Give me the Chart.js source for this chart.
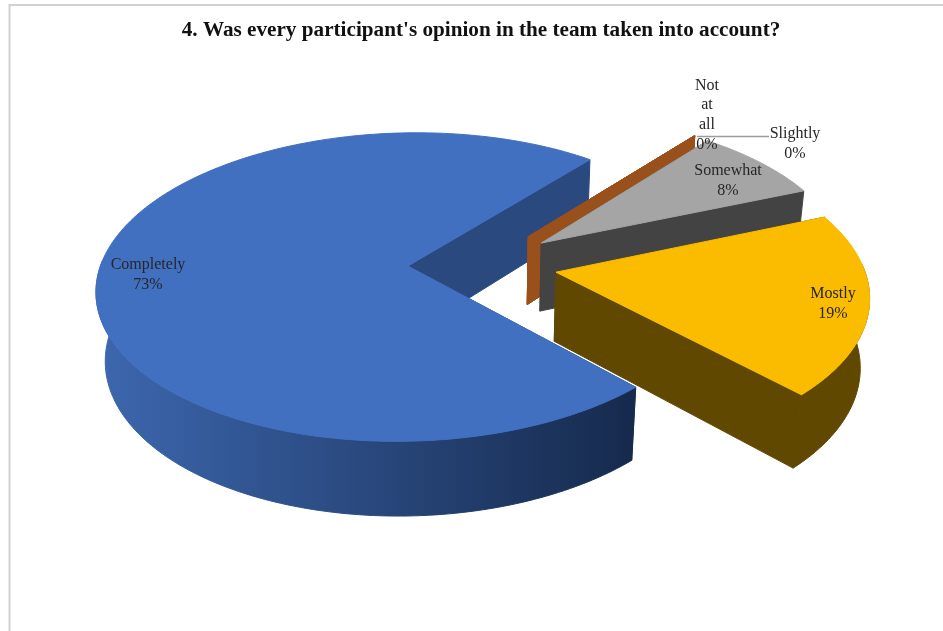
<!DOCTYPE html>
<html>
<head>
<meta charset="utf-8">
<style>html,body{margin:0;background:#fff}canvas{display:block}</style>
<script src="https://cdn.jsdelivr.net/npm/chart.js@4/dist/chart.umd.min.js"></script>
</head>
<body>
<canvas id="c" width="943" height="631"></canvas>
<script>
// Survey answers, in percent, clockwise from the start angle
const categories = ['Not at all', 'Slightly', 'Somewhat', 'Mostly', 'Completely'];
const percents = [0, 0, 8, 19, 73];
const chartTitle = "4. Was every participant's opinion in the team taken into account?";

// Slice colours: top face, cut walls, rim wall start and end
const topColors = ['#9a501b', '#9a501b', '#a5a5a5', '#fbbc00', '#4170c0'];
const cutColors = ['#9a501b', '#9a501b', '#434343', '#604800', '#2a4a7f'];
const rimFrom = ['#9a501b', '#9a501b', '#434343', '#604800', '#3c66ad'];
const rimTo = ['#9a501b', '#9a501b', '#434343', '#604800', '#162a4d'];

// Far slices are painted first so nearer ones overlap them
const paintOrder = [4, 0, 1, 2, 3];

// Centre of each data label's text block, and its line breaks
const labelLines = [['Not', 'at', 'all'], ['Slightly'], ['Somewhat'], ['Mostly'], ['Completely']];
const labelAnchors = [[707, 115], [795, 143.5], [728, 181], [833, 303.5], [148, 274.5]];

// Perspective camera for the tilted pie
const camera = {cx: 482.5, cy: 264.5, fx: 307, fy: 151, tilt: 0.136, lift: 70.5, fade: 0.024, explode: 0.243};

function project(x, y, z) {
  const w = 1 - camera.tilt * y + camera.fade * z;
  return [camera.cx + camera.fx * x / w, camera.cy + (camera.fy * y + camera.lift * z) / w];
}

function fillPath(ctx, pts, fill) {
  ctx.beginPath();
  pts.forEach((p, i) => i ? ctx.lineTo(p[0], p[1]) : ctx.moveTo(p[0], p[1]));
  ctx.closePath();
  ctx.fillStyle = fill;
  ctx.strokeStyle = fill;
  ctx.lineWidth = 1;
  ctx.lineJoin = 'round';
  ctx.fill();
  ctx.stroke();
}

function drawSlice(ctx, arc, i) {
  const mid = (arc.startAngle + arc.endAngle) / 2;
  const ox = camera.explode * Math.cos(mid);
  const oy = camera.explode * Math.sin(mid);
  const steps = Math.max(1, Math.ceil((arc.endAngle - arc.startAngle) / 0.02));
  const angleAt = k => arc.startAngle + (arc.endAngle - arc.startAngle) * k / steps;
  const rimAt = (k, z) => project(ox + Math.cos(angleAt(k)), oy + Math.sin(angleAt(k)), z);

  const apexTop = project(ox, oy, 0);
  const apexBottom = project(ox, oy, 1);

  // Cut walls first, then the camera-facing part of the rim, then the top face
  fillPath(ctx, [apexTop, rimAt(0, 0), rimAt(0, 1), apexBottom], cutColors[i]);
  fillPath(ctx, [apexTop, rimAt(steps, 0), rimAt(steps, 1), apexBottom], cutColors[i]);

  const rimTop = [], rimBottom = [], faceTop = [];
  for (let k = 0; k <= steps; k++) {
    faceTop.push(rimAt(k, 0));
    if (Math.sin(angleAt(k)) > -0.05) {
      rimTop.push(rimAt(k, 0));
      rimBottom.push(rimAt(k, 1));
    }
  }
  if (rimTop.length > 1 && arc.endAngle > arc.startAngle) {
    const xs = rimBottom.map(p => p[0]);
    const grad = ctx.createLinearGradient(Math.min(...xs), 0, Math.max(...xs), 0);
    grad.addColorStop(0, rimFrom[i]);
    grad.addColorStop(1, rimTo[i]);
    fillPath(ctx, rimTop.concat(rimBottom.slice().reverse()), grad);
  }
  if (arc.endAngle > arc.startAngle) {
    fillPath(ctx, [apexTop].concat(faceTop), topColors[i]);
  }
}

const pie3d = {
  id: 'pie3d',
  beforeDraw(chart) {
    const ctx = chart.ctx;
    ctx.save();
    ctx.fillStyle = '#fff';
    ctx.fillRect(0, 0, chart.width, chart.height);
    ctx.strokeStyle = '#d0d0d0';
    ctx.lineWidth = 2;
    ctx.beginPath();
    ctx.moveTo(9.5, chart.height);
    ctx.lineTo(9.5, 5);
    ctx.lineTo(chart.width, 5);
    ctx.stroke();
    ctx.restore();
  },
  beforeDatasetsDraw(chart) {
    const ctx = chart.ctx;
    const arcs = chart.getDatasetMeta(0).data;
    ctx.save();
    paintOrder.forEach(i => drawSlice(ctx, arcs[i], i));

    // Leader line for the "Slightly" label
    ctx.strokeStyle = '#9c9c9c';
    ctx.lineWidth = 1.4;
    ctx.beginPath();
    ctx.moveTo(697, 136.5);
    ctx.lineTo(769, 136.5);
    ctx.stroke();

    // Data labels: category name over the percentage
    ctx.font = '16px "Liberation Serif"';
    ctx.fillStyle = '#262626';
    ctx.textAlign = 'center';
    ctx.textBaseline = 'middle';
    categories.forEach((_, i) => {
      const lines = labelLines[i].concat(percents[i] + '%');
      const [x, y] = labelAnchors[i];
      lines.forEach((t, n) => ctx.fillText(t, x, y + (n - (lines.length - 1) / 2) * 19.6));
    });
    ctx.restore();
    return false;
  }
};

new Chart(document.getElementById('c'), {
  type: 'pie',
  data: {
    labels: categories,
    datasets: [{data: percents, backgroundColor: topColors, borderWidth: 0}]
  },
  options: {
    responsive: false,
    animation: false,
    rotation: 39,
    layout: {padding: {left: 19}},
    plugins: {
      legend: {display: false},
      tooltip: {enabled: false},
      title: {
        display: true,
        text: chartTitle,
        color: '#111',
        font: {family: '"Liberation Serif"', size: 21.2, weight: 'bold'},
        padding: {top: 18, bottom: 10}
      }
    }
  },
  plugins: [pie3d]
});
</script>
</body>
</html>
